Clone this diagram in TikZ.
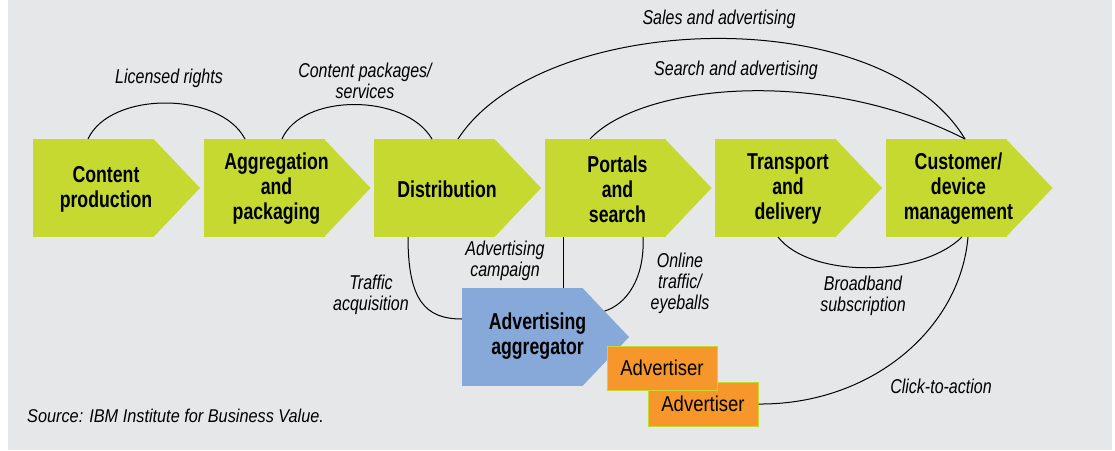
\documentclass[tikz,border=0pt]{standalone}
\usepackage{fontspec}
\usetikzlibrary{calc}
\newfontfamily\boldf{Liberation Sans}[FakeStretch=0.77]
\newfontfamily\labf{Liberation Sans}[FakeStretch=0.8]
\newfontfamily\advf{Liberation Sans}[FakeStretch=0.86]
\newfontfamily\srcf{Liberation Sans}[FakeStretch=0.88]
\definecolor{bggray}{HTML}{E6E7E9}
\definecolor{stagegreen}{HTML}{C5D931}
\definecolor{aggblue}{HTML}{87A9D9}
\definecolor{advorange}{HTML}{F7962A}
\tikzset{
  body/.style={fill=stagegreen, minimum width=121pt, minimum height=98pt, inner sep=0pt, outer sep=0pt},
  stagetxt/.style={font=\boldf\bfseries\fontsize{23}{25}\selectfont, align=center, inner sep=0pt},
  lab/.style={font=\labf\itshape\fontsize{20}{21}\selectfont, align=center, inner sep=0pt},
  advbox/.style={fill=advorange, draw=stagegreen, line width=1pt, minimum width=110pt, minimum height=44pt, inner sep=0pt, font=\advf\fontsize{21.5}{22}\selectfont},
  conn/.style={line width=1pt, black},
}
\begin{document}
\begin{tikzpicture}[x=1pt,y=-1pt]
\useasboundingbox (0,0) rectangle (1115,450);
\fill[bggray] (8,0) rectangle (1112,450);

% stage chevrons
\foreach \n/\x in {cp/33, ag/203.5, di/374, po/544.5, tr/715, cu/885.5} {
  \node[body] (\n) at (\x+60.5,188) {};
  \fill[stagegreen] ([xshift=-0.5pt]\n.north east) -- ([xshift=46pt]\n.east) -- ([xshift=-0.5pt]\n.south east) -- cycle;
}
\node[stagetxt] (cpt) at ([xshift=12.5pt,yshift=-1pt]cp.center) {Content\\production};
\node[stagetxt] (agt) at ([xshift=12.5pt,yshift=-1pt]ag.center) {Aggregation\\and\\packaging};
\node[stagetxt] (dit) at ([xshift=12.5pt,yshift=-1pt]di.center) {Distribution};
\node[stagetxt] (pot) at ([xshift=12.5pt,yshift=-1pt]po.center) {Portals\\and\\search};
\node[stagetxt] (trt) at ([xshift=12.5pt,yshift=-1pt]tr.center) {Transport\\and\\delivery};
\node[stagetxt] (cut) at ([xshift=12.5pt,yshift=-1pt]cu.center) {Customer/\\device\\management};

% advertising aggregator
\node[body, fill=aggblue] (agg) at (522.5,337) {};
\coordinate (aggtip) at ([xshift=46pt]agg.east);
\fill[aggblue] ([xshift=-0.5pt]agg.north east) -- (aggtip) -- ([xshift=-0.5pt]agg.south east) -- cycle;
\node[stagetxt] (aggt) at ([xshift=15pt,yshift=1pt]agg.center) {Advertising\\aggregator};

% advertisers
\node[advbox] (adv2) at (703,404) {Advertiser};
\node[advbox] (adv1) at (662,368) {Advertiser};

% connectors
\draw[conn] ([xshift=55pt]cp.north west) .. controls (110,91) and (220,91) .. ([xshift=41.5pt]ag.north west);
\draw[conn] ([xshift=78.5pt]ag.north west) .. controls (302,93) and (405,93) .. ([xshift=58pt]di.north west);
\draw[conn] ([xshift=84pt]di.north west) .. controls (540,12) and (880,-2) .. ([xshift=79.5pt]cu.north west);
\draw[conn] ([xshift=45.5pt]po.north west) .. controls (640,85) and (820,65) .. ([xshift=79.5pt]cu.north west);
\draw[conn] ([xshift=34pt]di.south west) .. controls (408,300) and (425,319) .. ([yshift=18pt]agg.west);
\draw[conn] ([xshift=18.5pt]po.south west) -- ([xshift=101pt]agg.north west);
\draw[conn] ([xshift=98.5pt]po.south west) .. controls (645,280) and (625,305) .. ($(agg.north east)!0.47!(aggtip)$);
\draw[conn] ([xshift=63pt]tr.south west) .. controls (810,278) and (920,278) .. ([xshift=76.5pt]cu.south west);
\draw[conn] ([xshift=82.5pt]cu.south west) .. controls (960,330) and (870,405) .. (adv2.east);

% labels
\node[lab] (l1) at (169,78) {Licensed rights};
\node[lab] (l2) at (365,81) {Content packages/\\services};
\node[lab] (l3) at (719,19) {Sales and advertising};
\node[lab] (l4) at (736,70) {Search and advertising};
\node[lab] (l5) at (505,261) {Advertising\\campaign};
\node[lab] (l6) at (371,295) {Traffic\\acquisition};
\node[lab] (l7) at (680,283) {Online\\traffic/\\eyeballs};
\node[lab] (l8) at (863,296) {Broadband\\subscription};
\node[lab] (l9) at (941,386) {Click-to-action};
\node[lab, anchor=west, font=\srcf\itshape\fontsize{18.5}{20}\selectfont] (src) at (27,416) {Source: IBM Institute for Business Value.};
\end{tikzpicture}
\end{document}
